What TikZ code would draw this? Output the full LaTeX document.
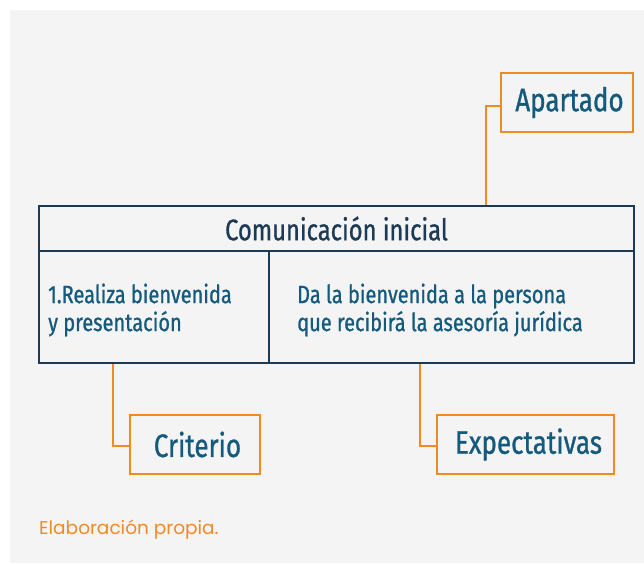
\documentclass[tikz,border=0pt]{standalone}
\usepackage{fontspec}
\setmainfont{Fira Sans}[FakeStretch=0.8, FakeBold=0.9]
\newfontfamily\footfont{Poppins}
\usetikzlibrary{calc}
\definecolor{bggray}{HTML}{F4F4F4}
\definecolor{navy}{HTML}{1C3A55}
\definecolor{tblue}{HTML}{145A7D}
\definecolor{orng}{HTML}{F28A22}
\tikzset{
  cellbox/.style={draw=navy, line width=2pt, anchor=north west, inner sep=0pt},
  labelbox/.style={draw=orng, line width=2pt, inner sep=0pt, minimum height=59pt,
    text=tblue, font=\fontsize{32.5}{36}\selectfont},
  link/.style={draw=orng, line width=2pt},
  celltext/.style={anchor=west, align=left, text=tblue, inner sep=0pt,
    font=\fontsize{25}{28}\selectfont}
}
\begin{document}
\begin{tikzpicture}[x=1pt,y=-1pt]
\useasboundingbox (0,0) rectangle (644,563);
\fill[bggray] (10,10) rectangle (644,563);
% table
\node[cellbox, minimum width=595pt, minimum height=45pt] (hdr) at (38,205) {};
\node[cellbox, minimum width=230pt, minimum height=112pt] (lc) at (38,250) {};
\node[cellbox, minimum width=365pt, minimum height=112pt] (rc) at (268,250) {};
\node[text=navy, inner sep=0pt, font=\fontsize{29.7}{32}\selectfont] (hdrt) at (hdr.center) {Comunicación inicial};
\node[celltext] (lct) at (48,310) {1.Realiza bienvenida\\y presentación};
\node[celltext] (rct) at (297,310) {Da la bienvenida a la persona\\que recibirá la asesoría jurídica};
% labels
\node[labelbox, minimum width=132pt] (ap) at (567,102.5) {\hspace{5pt}Apartado};
\node[labelbox, minimum width=130pt] (cr) at (195,444.5) {\hspace{5pt}Criterio};
\node[labelbox, minimum width=177pt] (ex) at (525.5,444.5) {\hspace{6pt}Expectativas};
\coordinate (apx) at (486,0);
\coordinate (crx) at (113,0);
\coordinate (exx) at (420,0);
\draw[link] ([yshift=-3.5pt]ap.west) -| (hdr.north -| apx);
\draw[link] ([yshift=-1.5pt]cr.west) -| (lc.south -| crx);
\draw[link] ([yshift=-1.5pt]ex.west) -| (rc.south -| exx);
% footer
\node[anchor=west, inner sep=0pt, text=orng, font=\footfont\fontsize{18.5}{22}\selectfont] (foot) at (39,530) {Elaboración propia.};
\end{tikzpicture}
\end{document}
